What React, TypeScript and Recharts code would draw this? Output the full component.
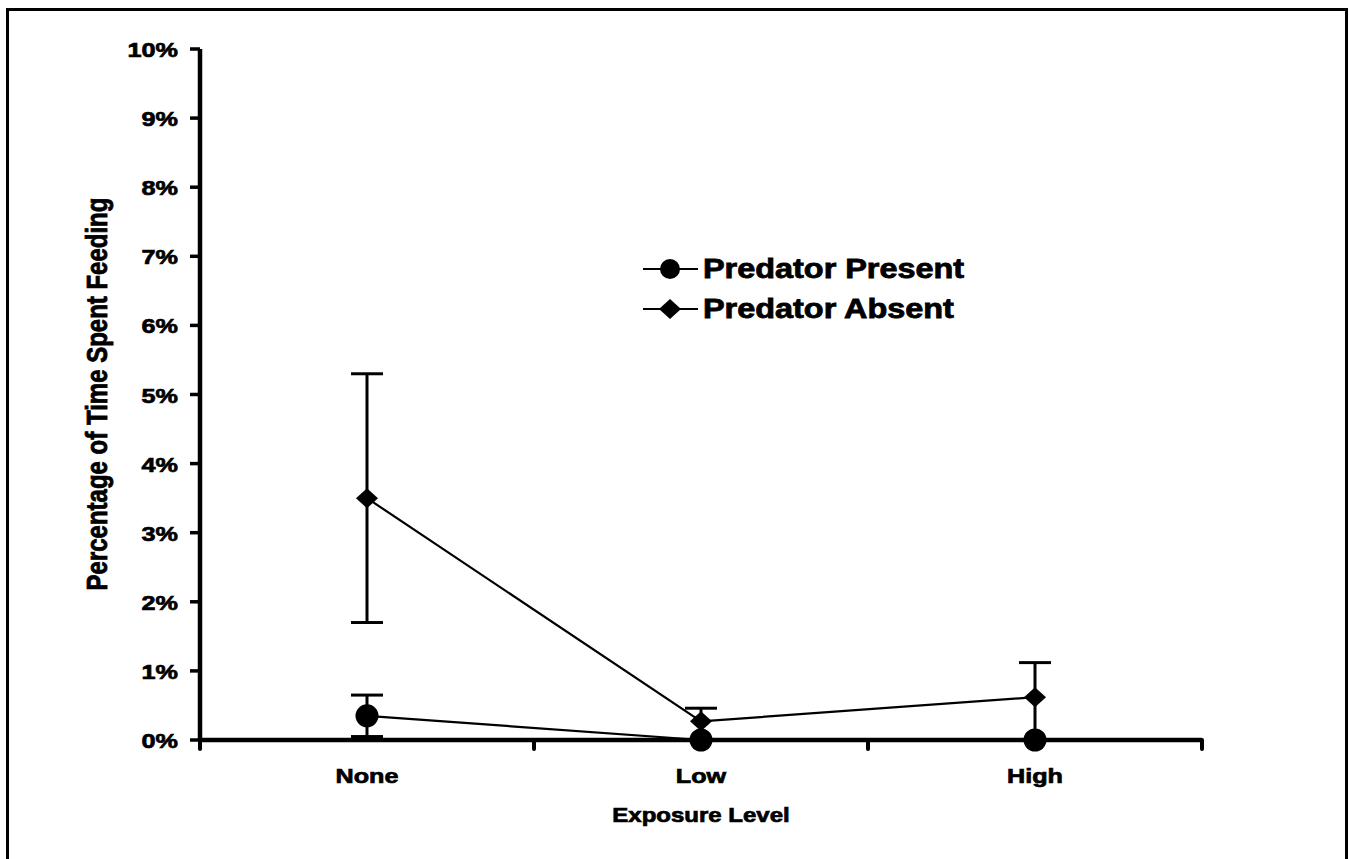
import React from 'react';
import { LineChart, Line, XAxis, YAxis, ErrorBar, Legend } from 'recharts';

const categories = ['None', 'Low', 'High'];
const presentValues = [0.35, 0, 0];
const presentErrors = [[0.3, 0.3], [0, 0], [0, 0]];
const absentValues = [3.5, 0.27, 0.62];
const absentErrors = [[1.8, 1.8], [0.27, 0.19], [0.62, 0.5]];
const yTicks = [0, 1, 2, 3, 4, 5, 6, 7, 8, 9, 10];
const xTicks = [0, 0.5, 1, 1.5, 2, 2.5, 3];
const seriesNames = ['Predator Present', 'Predator Absent'];

const data = categories.map((c, i) => ({
  pos: i + 0.5,
  category: c,
  present: presentValues[i],
  presentErr: presentErrors[i],
  absent: absentValues[i],
  absentErr: absentErrors[i],
}));

const FONT = '"Liberation Sans", Arial, sans-serif';

const XTick = (props: any) => {
  const { x, y, payload } = props;
  const v = payload.value;
  if (Number.isInteger(v)) {
    return <line x1={x} y1={y} x2={x} y2={y + 9} stroke="#000" strokeWidth={4} strokeLinecap="round" />;
  }
  const label = categories[Math.floor(v)];
  return (
    <text
      transform={`translate(${x},${y + 43}) scale(1.2,1)`}
      textAnchor="middle"
      fontFamily={FONT}
      fontWeight="bold"
      fontSize={21}
      fill="#000"
      stroke="#000"
      strokeWidth={0.7}
    >
      {label}
    </text>
  );
};

const YTick = (props: any) => {
  const { x, y, payload } = props;
  return (
    <text
      transform={`translate(${x},${y + 8}) scale(1.2,1)`}
      textAnchor="end"
      fontFamily={FONT}
      fontWeight="bold"
      fontSize={21}
      fill="#000"
      stroke="#000"
      strokeWidth={0.7}
    >
      {`${payload.value}%`}
    </text>
  );
};

const CircleDot = (props: any) => {
  const { cx, cy, index } = props;
  return <circle key={`c${index}`} cx={cx} cy={cy} r={11.5} fill="#000" />;
};

const DiamondDot = (props: any) => {
  const { cx, cy, index } = props;
  return (
    <polygon
      key={`d${index}`}
      points={`${cx},${cy - 10} ${cx + 11},${cy} ${cx},${cy + 10} ${cx - 11},${cy}`}
      fill="#000"
    />
  );
};

const LegendContent = () => (
  <div style={{ fontFamily: FONT, fontWeight: 'bold', color: '#000' }}>
    {seriesNames.map((name, i) => (
      <div key={name} style={{ display: 'flex', alignItems: 'center', height: 40 }}>
        <svg width={58} height={24} style={{ display: 'block' }}>
          <line x1={1} y1={12} x2={56} y2={12} stroke="#000" strokeWidth={2} />
          {i === 0 ? (
            <circle cx={28} cy={12} r={10} fill="#000" />
          ) : (
            <polygon points="28,2 39,12 28,22 17,12" fill="#000" />
          )}
        </svg>
        <span
          style={{
            fontSize: 27,
            display: 'inline-block',
            transform: 'scaleX(1.2)',
            transformOrigin: 'left center',
            marginLeft: 3,
            lineHeight: '40px',
            whiteSpace: 'nowrap',
            WebkitTextStroke: '0.8px #000',
          }}
        >
          {name}
        </span>
      </div>
    ))}
  </div>
);

const YLabel = () => (
  <text
    transform="translate(107,394) scale(1.2,1) rotate(-90)"
    textAnchor="middle"
    fontFamily={FONT}
    fontWeight="bold"
    fontSize={24}
    fill="#000"
    stroke="#000"
    strokeWidth={0.7}
  >
    Percentage of Time Spent Feeding
  </text>
);

const XLabel = () => (
  <text
    transform="translate(701,822) scale(1.2,1)"
    textAnchor="middle"
    fontFamily={FONT}
    fontWeight="bold"
    fontSize={20}
    fill="#000"
    stroke="#000"
    strokeWidth={0.7}
  >
    Exposure Level
  </text>
);

export default function App() {
  return (
    <div style={{ position: 'absolute', left: 0, top: 0, width: 1349, height: 859, overflow: 'hidden', background: '#fff' }}>
      <div
        style={{
          position: 'absolute',
          left: 6,
          top: 8,
          width: 1342,
          height: 851,
          boxSizing: 'border-box',
          borderTop: '3px solid #000',
          borderLeft: '3px solid #000',
          borderRight: '3px solid #000',
        }}
      />
      <div style={{ position: 'absolute', left: 0, top: 0 }}>
        <LineChart width={1349} height={859} data={data} margin={{ top: 49, right: 147, bottom: 59, left: 0 }}>
          <XAxis
            dataKey="pos"
            type="number"
            domain={[0, 3]}
            ticks={xTicks}
            interval={0}
            tickSize={0}
            tickMargin={0}
            tickLine={false}
            tick={<XTick />}
            height={60}
            axisLine={{ stroke: '#000', strokeWidth: 4.5 }}
            label={<XLabel />}
          />
          <YAxis
            type="number"
            domain={[0, 10]}
            ticks={yTicks}
            interval={0}
            width={200}
            tickSize={10}
            tickMargin={12}
            tickLine={{ stroke: '#000', strokeWidth: 3.5 }}
            tick={<YTick />}
            axisLine={{ stroke: '#000', strokeWidth: 4.5 }}
            label={<YLabel />}
          />
          <Legend
            layout="vertical"
            align="center"
            verticalAlign="middle"
            content={<LegendContent />}
            wrapperStyle={{ position: 'absolute', left: 642, top: 249, width: 360, height: 80 }}
          />
          <Line
            name={seriesNames[1]}
            dataKey="absent"
            type="linear"
            stroke="#000"
            strokeWidth={2.2}
            dot={<DiamondDot />}
            activeDot={false}
            isAnimationActive={false}
          >
            <ErrorBar dataKey="absentErr" direction="y" width={16} strokeWidth={3} stroke="#000" />
          </Line>
          <Line
            name={seriesNames[0]}
            dataKey="present"
            type="linear"
            stroke="#000"
            strokeWidth={2.2}
            dot={<CircleDot />}
            activeDot={false}
            isAnimationActive={false}
          >
            <ErrorBar dataKey="presentErr" direction="y" width={16} strokeWidth={3} stroke="#000" />
          </Line>
        </LineChart>
      </div>
    </div>
  );
}
